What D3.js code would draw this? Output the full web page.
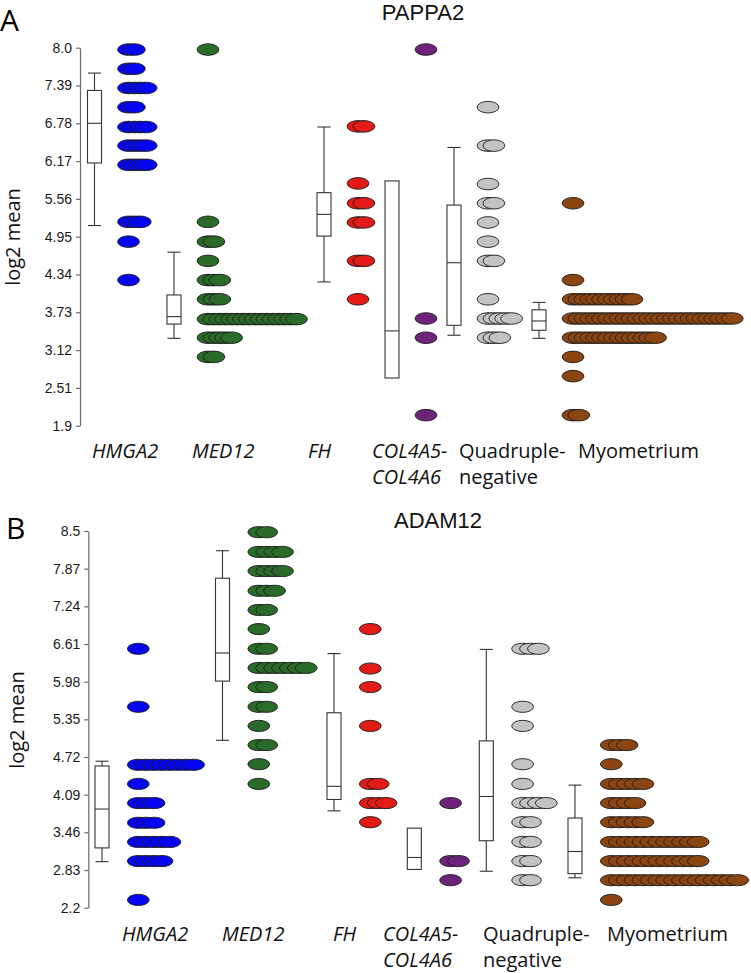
<!DOCTYPE html>
<html><head><meta charset="utf-8">
<script src="https://cdn.jsdelivr.net/npm/d3@7"></script>
<style>
html,body{margin:0;padding:0;background:#fff;}
svg{display:block;}
</style></head><body>
<svg id="chart" width="751" height="973"></svg>
<script>
// ---------- data ----------
const categories = ["HMGA2","MED12","FH","COL4A5-COL4A6","Quadruple-negative","Myometrium"];
const labelLines = [["HMGA2"],["MED12"],["FH"],["COL4A5-","COL4A6"],["Quadruple-","negative"],["Myometrium"]];
const italicLabel = [true,true,true,true,false,false];
const colors = ["#0505f0","#2a6b2a","#e31b17","#6c2379","#c3c3c3","#8b4511"];

const titleA = "PAPPA2";
const titleB = "ADAM12";
const yLabel = "log2 mean";

const ticksA = [8.0,7.39,6.78,6.17,5.56,4.95,4.34,3.73,3.12,2.51,1.9];
const tickLabelsA = ["8.0","7.39","6.78","6.17","5.56","4.95","4.34","3.73","3.12","2.51","1.9"];
const ticksB = [8.5,7.87,7.24,6.61,5.98,5.35,4.72,4.09,3.46,2.83,2.2];
const tickLabelsB = ["8.5","7.87","7.24","6.61","5.98","5.35","4.72","4.09","3.46","2.83","2.2"];

// box stats per category (null = not drawn)
const boxA_low  = [5.13,3.31,4.22,null,3.36,3.31];
const boxA_q1   = [6.14,3.54,4.96,2.67,3.52,3.44];
const boxA_med  = [6.78,3.66,5.31,3.43,4.53,3.59];
const boxA_q3   = [7.31,4.01,5.66,5.85,5.46,3.77];
const boxA_high = [7.59,4.70,6.72,null,6.39,3.89];

const boxB_low  = [2.97,5.00,3.82,null,2.81,2.70];
const boxB_q1   = [3.20,5.99,4.01,2.84,3.32,2.77];
const boxB_med  = [3.85,6.46,4.23,3.04,4.06,3.14];
const boxB_q3   = [4.57,7.71,5.46,3.53,4.99,3.70];
const boxB_high = [4.65,8.17,6.45,null,6.52,4.25];

// dot rows: [value, number of samples]
const dotsA_HMGA2 = [[7.97,2],[7.66,2],[7.35,4],[7.04,2],[6.72,4],[6.42,4],[6.11,4],[5.19,3],[4.87,1],[4.25,1]];
const dotsA_MED12 = [[7.97,1],[5.19,1],[4.87,2],[4.56,1],[4.25,3],[3.94,3],[3.62,16],[3.32,5],[3.01,2]];
const dotsA_FH    = [[6.73,2],[5.81,1],[5.49,2],[5.18,2],[4.56,2],[3.94,1]];
const dotsA_COL   = [[7.97,1],[3.63,1],[3.32,1],[2.07,1]];
const dotsA_QN    = [[7.04,1],[6.42,2],[5.80,1],[5.49,2],[5.18,1],[4.87,1],[4.56,2],[3.94,1],[3.63,5],[3.32,3]];
const dotsA_MYO   = [[5.49,1],[4.25,1],[3.94,11],[3.63,28],[3.32,15],[3.01,1],[2.70,1],[2.07,2]];

const dotsB_HMGA2 = [[6.53,1],[5.56,1],[4.59,8],[4.27,1],[3.95,3],[3.62,3],[3.30,5],[2.98,4],[2.33,1]];
const dotsB_MED12 = [[8.48,2],[8.15,4],[7.83,4],[7.50,3],[7.18,2],[6.86,1],[6.53,2],[6.21,7],[5.89,2],[5.56,2],[5.24,1],[4.92,2],[4.60,1],[4.27,1]];
const dotsB_FH    = [[6.86,1],[6.20,1],[5.89,1],[5.24,1],[4.27,2],[3.95,3],[3.63,1]];
const dotsB_COL   = [[3.95,1],[2.98,2],[2.66,1]];
const dotsB_QN    = [[6.53,3],[5.56,1],[5.24,1],[4.60,1],[4.27,1],[3.95,4],[3.63,2],[3.30,2],[2.98,2],[2.66,2]];
const dotsB_MYO   = [[4.92,3],[4.60,1],[4.27,5],[3.95,4],[3.63,5],[3.30,12],[2.98,12],[2.66,17],[2.33,1]];

// ---------- layout ----------
const svg = d3.select("#chart");
const labelFont = "'Open Sans', sans-serif";
const numFont = "'Liberation Sans', Arial, sans-serif";

function drawPanel(cfg) {
  const g = svg.append("g");
  const y = d3.scaleLinear().domain(cfg.domain).range(cfg.range);
  const xBox = d3.scaleOrdinal().domain(categories).range(cfg.boxX);
  const xLab = d3.scaleOrdinal().domain(categories).range(cfg.labelX);

  // axis
  const axis = d3.axisLeft(y).tickValues(cfg.ticks)
    .tickFormat((d,i) => cfg.tickLabels[i]).tickSize(4).tickSizeOuter(0).tickPadding(cfg.tickPad);
  const ag = g.append("g").attr("transform", `translate(${cfg.axisX},0)`).call(axis);
  ag.select(".domain").attr("stroke", "#6a6a6a").attr("stroke-width", 1.2);
  ag.selectAll(".tick line").attr("stroke", "#6a6a6a").attr("stroke-width", 1.2);
  ag.selectAll(".tick text").attr("font-family", numFont).attr("font-size", cfg.tickFont).attr("fill", "#1a1a1a");

  // y label
  g.append("text").attr("transform", `translate(${cfg.yLabX},${cfg.yLabY}) rotate(-90)`)
    .attr("text-anchor", "middle").attr("font-family", labelFont).attr("font-size", 20)
    .attr("fill", "#111").text(yLabel);

  // panel letter
  g.append("text").attr("x", cfg.letterX).attr("y", cfg.letterY)
    .attr("font-family", labelFont).attr("font-size", 30).attr("fill", "#000").text(cfg.letter);

  // title
  g.append("text").attr("x", cfg.titleX).attr("y", cfg.titleY).attr("text-anchor", "middle")
    .attr("font-family", numFont).attr("font-size", 22).attr("fill", "#111").text(cfg.title);

  // boxes
  const bw = 14;
  categories.forEach((c, i) => {
    const cx = xBox(c);
    const bg = g.append("g").attr("stroke", "#333").attr("stroke-width", 1.1).attr("fill", "none");
    if (cfg.high[i] != null) {
      bg.append("line").attr("x1", cx).attr("x2", cx).attr("y1", y(cfg.high[i])).attr("y2", y(cfg.q3[i]));
      bg.append("line").attr("x1", cx - bw/2 + 0.5).attr("x2", cx + bw/2 - 0.5).attr("y1", y(cfg.high[i])).attr("y2", y(cfg.high[i]));
    }
    if (cfg.low[i] != null) {
      bg.append("line").attr("x1", cx).attr("x2", cx).attr("y1", y(cfg.low[i])).attr("y2", y(cfg.q1[i]));
      bg.append("line").attr("x1", cx - bw/2 + 0.5).attr("x2", cx + bw/2 - 0.5).attr("y1", y(cfg.low[i])).attr("y2", y(cfg.low[i]));
    }
    bg.append("rect").attr("x", cx - bw/2).attr("width", bw)
      .attr("y", y(cfg.q3[i])).attr("height", y(cfg.q1[i]) - y(cfg.q3[i])).attr("fill", "#fff");
    bg.append("line").attr("x1", cx - bw/2).attr("x2", cx + bw/2).attr("y1", y(cfg.med[i])).attr("y2", y(cfg.med[i]));
  });

  // dots
  categories.forEach((c, i) => {
    const x0 = xBox(c) + cfg.dotOffset;
    const dg = g.append("g");
    cfg.dots[i].forEach(([v, n]) => {
      d3.range(n).forEach(k => {
        dg.append("ellipse").attr("cx", x0 + k * cfg.step).attr("cy", y(v))
          .attr("rx", 10.9).attr("ry", cfg.ry)
          .attr("fill", colors[i]).attr("stroke", "#1c1c1c").attr("stroke-width", 0.9);
      });
    });
  });

  // category labels
  categories.forEach((c, i) => {
    labelLines[i].forEach((t, j) => {
      g.append("text").attr("x", xLab(c)).attr("y", cfg.labY[j])
        .attr("font-family", labelFont).attr("font-size", 20)
        .attr("font-style", italicLabel[i] ? "italic" : "normal")
        .attr("fill", "#111").text(t);
    });
  });
}

drawPanel({
  letter: "A", letterX: 0, letterY: 31,
  title: titleA, titleX: 423, titleY: 20,
  domain: [1.9, 8.0], range: [425.7, 47.7],
  ticks: ticksA, tickLabels: tickLabelsA, axisX: 80, tickPad: 4, tickFont: 14,
  yLabX: 20, yLabY: 237,
  boxX: [94.5, 174, 324, 392, 454, 539], dotOffset: 34, step: 5.9, ry: 5.8,
  labelX: [92, 192, 308, 372, 459, 578], labY: [458, 484],
  low: boxA_low, q1: boxA_q1, med: boxA_med, q3: boxA_q3, high: boxA_high,
  dots: [dotsA_HMGA2, dotsA_MED12, dotsA_FH, dotsA_COL, dotsA_QN, dotsA_MYO]
});

drawPanel({
  letter: "B", letterX: 6, letterY: 539,
  title: titleB, titleX: 438, titleY: 528,
  domain: [2.2, 8.5], range: [907.7, 531],
  ticks: ticksB, tickLabels: tickLabelsB, axisX: 88.3, tickPad: 4, tickFont: 14,
  yLabX: 24, yLabY: 720,
  boxX: [102, 222.5, 334, 414.3, 486.3, 575], dotOffset: 36.3, step: 7.9, ry: 5.6,
  labelX: [122, 222, 333, 383, 483, 607], labY: [941, 967],
  low: boxB_low, q1: boxB_q1, med: boxB_med, q3: boxB_q3, high: boxB_high,
  dots: [dotsB_HMGA2, dotsB_MED12, dotsB_FH, dotsB_COL, dotsB_QN, dotsB_MYO]
});
</script>
</body></html>
